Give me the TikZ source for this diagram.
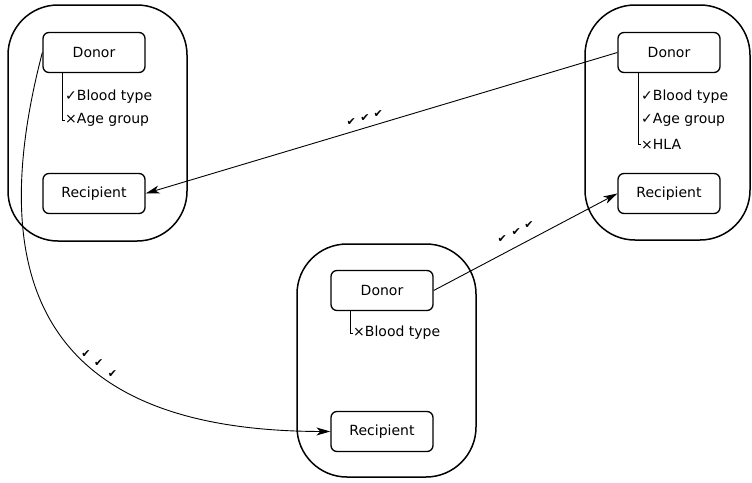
\documentclass[tikz,border=0pt]{standalone}
\usepackage{fontspec}
\setmainfont{DejaVu Sans}
\usetikzlibrary{arrows.meta}
\begin{document}
\begin{tikzpicture}[x=1pt,y=-1pt,
  every node/.style={font=\fontsize{14}{17}\selectfont},
  group/.style={draw, line width=1.5pt, rounded corners=50pt, inner sep=0pt},
  box/.style={draw, line width=1.3pt, rounded corners=6pt, minimum width=102pt, minimum height=40pt, inner sep=0pt},
  lbl/.style={anchor=west, inner sep=0.5pt},
  tree/.style={line width=0.8pt},
  edge/.style={line width=0.9pt, -{Stealth[length=14pt,width=8pt,inset=4pt]}},
  tk/.style={font=\fontsize{11}{13}\selectfont, inner sep=0pt}
]
\useasboundingbox (0,0) rectangle (752,482);
\fill[white] (0,0) rectangle (752,482);
% groups
\node[group, minimum width=179pt, minimum height=236pt] (g1) at (97.5,123) {};
\node[group, minimum width=165pt, minimum height=235pt] (g2) at (667.5,122.5) {};
\node[group, minimum width=179pt, minimum height=233pt] (g3) at (386.5,360.5) {};
% boxes
\node[box] (d1) at (94,52.5) {Donor};
\node[box] (r1) at (94,193.5) {Recipient};
\node[box] (d2) at (669,52.5) {Donor};
\node[box] (r2) at (669,193.5) {Recipient};
\node[box] (d3) at (382,290.5) {Donor};
\node[box] (r3) at (382,431.5) {Recipient};
% labels
\node[lbl] (a1) at (64.5,97) {✓Blood type};
\node[lbl] (a2) at (64.5,120) {×Age group};
\draw[tree] ([xshift=20pt]d1.south west) |- (a2.west);
\node[lbl] (b1) at (640.5,97) {✓Blood type};
\node[lbl] (b2) at (640.5,120) {✓Age group};
\node[lbl] (b3) at (640.5,144) {×HLA};
\draw[tree] ([xshift=21pt]d2.south west) |- (b3.west);
\node[lbl] (c1) at (352.5,333) {×Blood type};
\draw[tree] ([xshift=20pt]d3.south west) |- (c1.west);
% edges
\draw[edge] (d2.west) --
  node[tk, pos=0.507, yshift=10pt] {✔}
  node[tk, pos=0.535, yshift=10pt] {✔}
  node[tk, pos=0.564, yshift=10pt] {✔} (r1.east);
\draw[edge] (d3.east) --
  node[tk, pos=0.373, yshift=15pt] {✔}
  node[tk, pos=0.449, yshift=15pt] {✔}
  node[tk, pos=0.519, yshift=15pt] {✔} (r2.west);
\draw[edge] (d1.west) .. controls (-25,310) and (70,431) ..
  node[tk, pos=0.557, xshift=4.5pt, yshift=4.5pt] {✔}
  node[tk, pos=0.59, xshift=5.5pt, yshift=5.5pt] {✔}
  node[tk, pos=0.625, xshift=5.5pt, yshift=5.5pt] {✔} (r3.west);
\end{tikzpicture}
\end{document}
